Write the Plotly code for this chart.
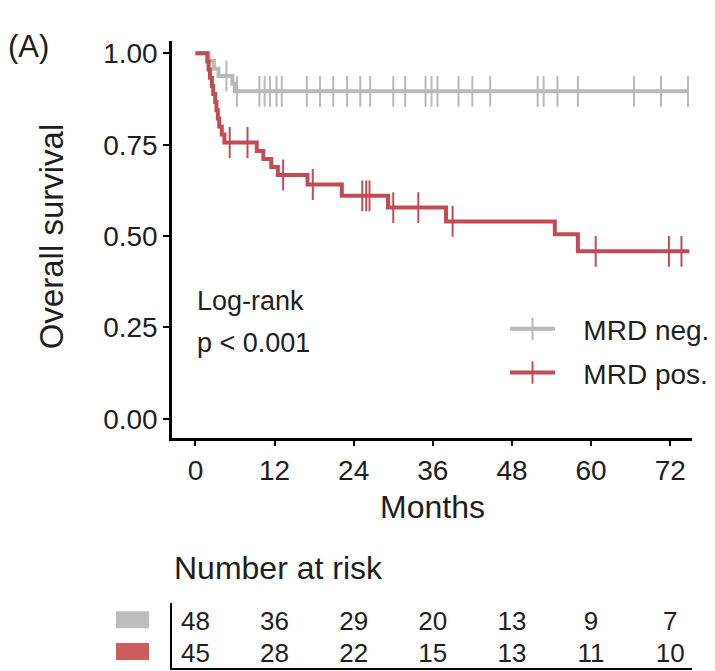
import plotly.graph_objects as go

# ---------------- data ----------------
gray_time = [0, 2.0, 2.8, 3.5, 5.6, 6.0, 74.7]
gray_surv = [1.0, 0.979, 0.958, 0.938, 0.917, 0.896, 0.896]
gray_cens = [4.7, 6.3, 9.7, 10.5, 11.3, 12.3, 13.1, 16.9, 18.9, 20.9, 23.0, 25.0,
             26.5, 30.0, 31.8, 34.9, 35.8, 36.7, 39.9, 42.0, 44.7, 51.9, 52.8,
             54.9, 58.0, 66.5, 70.6, 74.7]

red_time = [0, 1.8, 2.0, 2.2, 2.5, 2.7, 3.0, 3.2, 3.4, 3.6, 4.0, 4.4, 9.3, 10.3,
            11.5, 12.5, 17.0, 22.2, 29.2, 38.0, 54.5, 58.0, 74.9]
red_surv = [1.0, 0.978, 0.956, 0.933, 0.911, 0.889, 0.867, 0.844, 0.822, 0.800,
            0.778, 0.756, 0.733, 0.711, 0.689, 0.667, 0.641, 0.610, 0.578, 0.540,
            0.505, 0.458, 0.458]
red_cens = [5.2, 7.9, 13.3, 17.8, 25.3, 25.9, 26.4, 30.0, 33.8, 39.0, 60.7, 71.8, 73.7]

risk_times = [0, 12, 24, 36, 48, 60, 72]
risk_gray = [48, 36, 29, 20, 13, 9, 7]
risk_red = [45, 28, 22, 15, 13, 11, 10]

x_ticks = [0, 12, 24, 36, 48, 60, 72]
y_ticks = [0, 0.25, 0.5, 0.75, 1.0]
y_ticktext = ["0.00", "0.25", "0.50", "0.75", "1.00"]

names = ["MRD neg.", "MRD pos."]
# --------------------------------------

GRAY = "#b9b9b9"
RED = "#c24b56"
FONT = "Liberation Sans, Arial, sans-serif"
TXT = "#1e1e1e"
NB = "\u00a0\u00a0\u00a0"


def step_at(times, surv, t):
    val = surv[0]
    for ti, si in zip(times, surv):
        if ti <= t:
            val = si
    return val


fig = go.Figure()

for times, surv, cens, col, name, lg in [
    (gray_time, gray_surv, gray_cens, GRAY, names[0], "legend"),
    (red_time, red_surv, red_cens, RED, names[1], "legend2"),
]:
    fig.add_trace(go.Scatter(x=times, y=surv, mode="lines", line=dict(color=col, width=4, shape="hv"),
                             showlegend=False, xaxis="x", yaxis="y", hoverinfo="skip"))
    fig.add_trace(go.Scatter(x=cens, y=[step_at(times, surv, t) for t in cens], mode="markers",
                             marker=dict(symbol="line-ns", size=22, line=dict(color=col, width=2)),
                             showlegend=False, xaxis="x", yaxis="y"))
    fig.add_trace(go.Scatter(x=[None], y=[None], mode="lines+markers", name=NB + name,
                             line=dict(color=col, width=4),
                             marker=dict(symbol="line-ns", size=22, line=dict(color=col, width=2)),
                             legend=lg, xaxis="x", yaxis="y"))

# risk table
fig.add_trace(go.Scatter(x=risk_times, y=[2] * len(risk_times), text=[str(v) for v in risk_gray],
                         mode="text", textfont=dict(size=26, color=TXT, family=FONT),
                         showlegend=False, xaxis="x2", yaxis="y2", cliponaxis=False))
fig.add_trace(go.Scatter(x=risk_times, y=[1] * len(risk_times), text=[str(v) for v in risk_red],
                         mode="text", textfont=dict(size=26, color=TXT, family=FONT),
                         showlegend=False, xaxis="x2", yaxis="y2", cliponaxis=False))

W, H = 715, 671
L, R = 172, 23
PW = W - L - R


def px_x(p):
    return (p - L) / PW


def px_y(p):
    return (H - p) / H


axis_common = dict(showline=True, linecolor="black", linewidth=2.5, showgrid=False, zeroline=False,
                   ticks="outside", ticklen=6, tickwidth=2, tickcolor="black",
                   tickfont=dict(size=28, color=TXT, family=FONT))

fig.update_layout(
    width=W, height=H,
    margin=dict(l=L, r=R, t=0, b=0),
    paper_bgcolor="white", plot_bgcolor="white",
    font=dict(family=FONT, color=TXT),
    xaxis=dict(domain=[0, 1], range=[-3.55, 75.3], tickvals=x_ticks, anchor="y", **axis_common),
    yaxis=dict(domain=[px_y(437), px_y(38.7)], range=[-0.052, 1.035], tickvals=y_ticks,
               ticktext=y_ticktext, anchor="x", **axis_common),
    xaxis2=dict(domain=[0, 1], range=[-3.55, 75.3], anchor="y2", showline=True, linecolor="black",
                linewidth=1.5, showticklabels=False, ticks="", showgrid=False, zeroline=False),
    yaxis2=dict(domain=[px_y(668), px_y(603)], range=[0.594, 2.625], anchor="x2", showline=True,
                linecolor="black", linewidth=2, showticklabels=False, ticks="", showgrid=False,
                zeroline=False),
    legend=dict(x=px_x(505), y=px_y(328), xanchor="left", yanchor="middle", itemwidth=45,
                font=dict(size=28, color=TXT, family=FONT), bgcolor="rgba(0,0,0,0)"),
    legend2=dict(x=px_x(505), y=px_y(372), xanchor="left", yanchor="middle", itemwidth=45,
                 font=dict(size=28, color=TXT, family=FONT), bgcolor="rgba(0,0,0,0)"),
    annotations=[
        dict(text="(A)", xref="paper", yref="paper", x=px_x(6), y=px_y(45), xanchor="left",
             yanchor="middle", showarrow=False, font=dict(size=31, color=TXT, family=FONT)),
        dict(text="Overall survival", xref="paper", yref="paper", x=px_x(51), y=px_y(235),
             xanchor="center", yanchor="middle", textangle=-90, showarrow=False,
             font=dict(size=33, color=TXT, family=FONT)),
        dict(text="Months", xref="paper", yref="paper", x=0.5, y=px_y(507), xanchor="center",
             yanchor="middle", showarrow=False, font=dict(size=32, color=TXT, family=FONT)),
        dict(text="Number at risk", xref="paper", yref="paper", x=0, y=px_y(568), xanchor="left",
             yanchor="middle", showarrow=False, font=dict(size=32, color=TXT, family=FONT)),
        dict(text="Log-rank", xref="paper", yref="paper", x=px_x(195), y=px_y(300), xanchor="left",
             yanchor="middle", showarrow=False, font=dict(size=27, color=TXT, family=FONT)),
        dict(text="p < 0.001", xref="paper", yref="paper", x=px_x(195), y=px_y(342), xanchor="left",
             yanchor="middle", showarrow=False, font=dict(size=27, color=TXT, family=FONT)),
    ],
    shapes=[
        dict(type="rect", xref="paper", yref="paper", x0=px_x(116), x1=px_x(149),
             y0=px_y(628), y1=px_y(611), fillcolor="#bdbdbd", line=dict(width=0)),
        dict(type="rect", xref="paper", yref="paper", x0=px_x(116), x1=px_x(149),
             y0=px_y(660), y1=px_y(643), fillcolor="#cd5c5c", line=dict(width=0)),
    ],
)

fig.write_html("out.html")
